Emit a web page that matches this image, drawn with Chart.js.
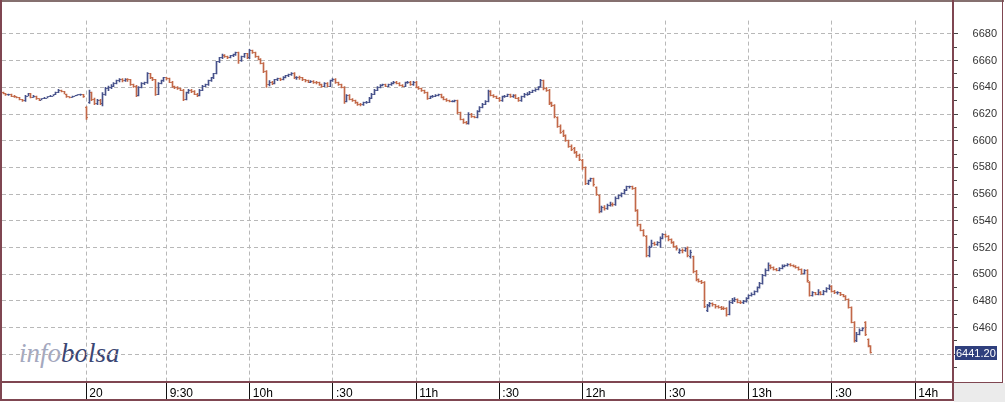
<!DOCTYPE html>
<html><head><meta charset="utf-8">
<script src="https://cdn.jsdelivr.net/npm/chart.js@4.4.1/dist/chart.umd.min.js"></script>
<style>
html,body{margin:0;padding:0;background:#fff;}
#wrap{position:relative;width:1005px;height:402px;overflow:hidden;}
#c{position:relative;z-index:1;display:block;}
#logo{position:absolute;z-index:0;left:19px;top:340px;font-family:'Liberation Serif','Times New Roman',serif;font-style:italic;font-size:27px;line-height:27px;white-space:nowrap;}
#logo .a{color:#a4a8be;}
#logo .b{color:#3b4673;}
</style></head><body>
<div id="wrap"><div id="logo"><span class="a">info</span><span class="b">bolsa</span></div><canvas id="c" width="1005" height="402"></canvas></div>
<script>
// minutes from 9:00 of the first 1-minute bar
const firstMinute = -29;
const opens = [
6636,6635.5,6634.5,6634.8,6633.5,6633,6632.5,6631,6630,6633.5,
6635.5,6632.5,6633.5,6631.5,6630.5,6631.5,6632,6633,6633.5,6634.5,
6636,6638,6637,6635,6633,6632.5,6633.5,6634,6634.5,6634.8,
6625,6629,6636,6631,6628,6630,6628,6635,6639,6640,
6641,6643,6645,6646,6645,6646,6645.5,6642,6641,6634,
6640,6643,6643.5,6650,6647,6645.5,6635,6643,6645,6647,
6646.5,6644,6640.5,6640,6639,6638,6631,6636,6638,6637,
6635,6634,6638,6641,6642,6645,6647,6650,6659,6662,
6664,6663,6662.5,6663.5,6664.5,6666,6660,6663,6665,6662,
6667.5,6666,6663,6661,6658,6652,6642,6644,6643,6645.5,
6646.5,6646,6647.5,6648.5,6649.5,6650.5,6647,6647.5,6647,6645.5,
6645,6644,6644.5,6644,6643.5,6642,6641,6643,6641,6645,
6646,6643.5,6642,6640,6629.5,6634,6631,6630,6628.5,6627.5,
6627,6628.5,6629,6632,6635,6638,6640,6641.5,6642,6641,
6642,6643,6644,6643,6641.5,6641,6643.5,6644,6642,6644,
6640,6639,6637.5,6636,6632,6633,6633.5,6634,6634.5,6632.5,
6631,6630,6629.5,6629.5,6630,6621,6616,6614,6613,6620,
6618,6617.5,6622,6625,6627.5,6629.5,6637,6634,6633,6632,
6630,6633,6633.5,6634.5,6633,6634,6632,6630,6633,6635,
6635,6636.5,6637.5,6638.5,6641,6645,6639,6638,6628.5,6626.5,
6617.5,6611,6607,6604,6600,6596,6594,6591.5,6589,6585.5,
6580,6568,6570,6571.5,6565,6559,6547,6550,6549,6551.5,
6552.5,6552,6557,6559,6560.5,6563,6565.5,6565.5,6564.5,6548,
6537,6533,6528.5,6514,6520,6523,6522.5,6523.5,6527,6529.5,
6528.5,6526,6524,6521,6516,6518,6517.5,6519,6513,6513,
6502,6496,6494.5,6494,6473,6476.5,6478,6477,6476,6475,
6474.5,6474,6470,6479,6480,6481,6479,6478.5,6479.5,6482,
6484,6485,6487,6490,6493,6499,6503,6506.5,6505,6503.5,
6503,6504.5,6506,6506.5,6507.5,6506.5,6506,6505,6503.5,6500.5,
6503,6494,6484,6486,6485,6486.5,6485,6487,6489,6491,
6487,6486,6486,6484.5,6483.5,6481,6475,6464,6450,6455,
6458,6464,6451,6446.5
];
const highs = [
6636.5,6635.5,6635,6635,6634,6633,6632.5,6631,6634,6635.5,
6635.5,6634,6633.5,6631.5,6631.5,6632.5,6633,6634,6634.5,6636.5,
6638.5,6638,6637,6635,6633,6633.5,6634,6634.5,6635,6634.8,
6625.5,6638,6636.5,6632,6631,6631,6636,6640,6641,6642,
6643.5,6645.5,6646.5,6646.5,6646.5,6646.5,6646,6642.5,6641.5,6640.5,
6643.5,6644,6651,6650.5,6647.5,6646,6643.5,6645.5,6647.5,6647.5,
6647,6644.5,6641,6640.5,6639.5,6638.5,6636.5,6638.5,6638.5,6637.5,
6635.5,6638.5,6641.5,6642.5,6645.5,6647.5,6650.5,6659.5,6662.5,6665,
6664.5,6663.5,6664,6665,6666.5,6666.5,6663.5,6665.5,6665.5,6668.5,
6668,6666.5,6663.5,6661.5,6658.5,6652.5,6645,6644.5,6646,6647,
6647,6648,6649,6650,6651,6651,6648,6648.5,6647.5,6646,
6645.5,6645,6645,6644.5,6644,6642.5,6643.5,6643.5,6645.5,6646.5,
6646.5,6644,6642.5,6640.5,6634.5,6634.5,6631.5,6630.5,6629,6628,
6629,6629.5,6632.5,6635.5,6638.5,6640.5,6642,6642.5,6642.5,6642.5,
6643.5,6644.5,6644.5,6643.5,6642,6644,6644.5,6644.5,6644.5,6644.5,
6640.5,6639.5,6638,6636.5,6633.5,6634,6634.5,6635,6635,6633,
6631.5,6630.5,6630,6630.5,6630.5,6621.5,6616.5,6614.5,6621,6620.5,
6618.5,6622.5,6625.5,6628,6630,6638,6637.5,6634.5,6633.5,6632.5,
6633.5,6634,6635,6635,6634.5,6634.5,6632.5,6633.5,6635.5,6636,
6637,6638,6639,6640.5,6646,6645.5,6640,6638.5,6629,6627,
6618,6612,6608,6604.5,6600.5,6597,6595,6592,6590,6586,
6580.5,6570.5,6572,6572,6565.5,6559.5,6551,6551.5,6552.5,6554,
6553.5,6558,6559.5,6561,6563.5,6566,6566,6566,6565,6548.5,
6537.5,6533.5,6529,6521,6525.5,6524,6524.5,6528,6530.5,6530,
6529,6526.5,6524.5,6521.5,6519,6519,6520,6520.5,6518,6513.5,
6503,6496.5,6495.5,6494.5,6477.5,6479,6478.5,6477.5,6476.5,6476,
6475.5,6475,6480,6482,6482.5,6481.5,6480,6480.5,6482.5,6484.5,
6486,6487.5,6490.5,6494,6500,6504,6508.5,6507,6505.5,6504.5,
6505,6507,6507,6508,6508,6507,6506.5,6505.5,6504,6503.5,
6503.5,6494.5,6487,6486.5,6488.5,6487,6488,6490,6492,6491.5,
6488,6487,6486.5,6485,6484,6481.5,6475.5,6464.5,6456.5,6459,
6460,6464.5,6451.5,6446.5
];
const lows = [
6635,6634,6634,6633,6632.5,6632,6630.5,6629.5,6629.5,6633.5,
6632,6632.5,6631,6630,6630.5,6631.5,6632,6633,6633.5,6634.5,
6636,6636.5,6635,6632.5,6632,6632.5,6633.5,6634,6634,6632.5,
6616,6628,6630,6627,6627,6627,6626,6634,6637.5,6639,
6640.5,6642.5,6644,6644,6644.5,6644.5,6641.5,6640,6633,6633.5,
6639.5,6642,6643,6646.5,6645,6634,6634.5,6642.5,6644.5,6645.5,
6643.5,6640,6639,6638.5,6637.5,6630,6630.5,6635.5,6636,6634.5,
6633,6633.5,6637.5,6640.5,6641.5,6644.5,6646.5,6650,6658.5,6661.5,
6662.5,6661.5,6662,6663,6664,6658,6659.5,6662.5,6661.5,6661.5,
6665.5,6662.5,6660.5,6657.5,6651,6640,6641,6642,6642.5,6645,
6645,6645.5,6647,6648,6649,6646.5,6646,6646,6645,6644,
6643.5,6643.5,6643,6642.5,6641.5,6640,6640.5,6640.5,6640.5,6644.5,
6643,6641.5,6639.5,6628,6629,6630.5,6629.5,6628,6626.5,6626,
6626.5,6628,6628.5,6631.5,6634.5,6637.5,6639.5,6641,6640.5,6640.5,
6641.5,6642.5,6642.5,6641,6640.5,6640.5,6643,6641.5,6641.5,6639.5,
6638.5,6637,6635.5,6631,6631.5,6632.5,6633,6633.5,6632,6630.5,
6629.5,6629,6629,6629,6620,6615.5,6613,6612.5,6612.5,6617.5,
6617,6617,6621.5,6624.5,6627,6629,6633.5,6632.5,6631.5,6629.5,
6629.5,6632.5,6633,6632.5,6632.5,6631.5,6629.5,6629.5,6632.5,6634,
6634.5,6636,6637,6638,6640,6638,6637,6627,6625.5,6617,
6610,6605.5,6603,6599.5,6595,6592.5,6590.5,6587.5,6585,6578.5,
6567,6567,6569.5,6566,6559,6546,6546.5,6548,6548.5,6551,
6551,6551.5,6556.5,6558,6560,6562.5,6564.5,6563.5,6547,6536,
6532.5,6528.5,6513,6513,6520,6521.5,6521.5,6520,6526.5,6527.5,
6525,6523,6520,6518,6515.5,6516,6517,6513,6512,6501,
6495,6494,6493,6475,6472,6475.5,6476,6474.5,6474.5,6473.5,
6473.5,6468.5,6469.5,6478,6479.5,6478.5,6478,6478,6479,6481.5,
6483.5,6484.5,6486.5,6489.5,6492.5,6498.5,6502.5,6504,6503,6502.5,
6502.5,6504,6505.5,6506,6506,6505.5,6504.5,6503,6500,6500,
6494,6483.5,6483.5,6484.5,6484.5,6484.5,6484.5,6486.5,6488.5,6486.5,
6485.5,6485,6484,6483,6480.5,6474.5,6463.5,6449,6449.5,6454.5,
6457.5,6454,6445.5,6440.8
];
const closes = [
6635.5,6634.5,6634.8,6633.5,6633,6632.5,6631,6630,6633.5,6635.5,
6632.5,6633.5,6631.5,6630.5,6631.5,6632,6633,6633.5,6634.5,6636,
6638,6637,6635,6633,6632.5,6633.5,6634,6634.5,6634.8,6633,
6617.5,6636,6631,6628,6630,6628,6635,6639,6640,6641,
6643,6645,6646,6645,6646,6645.5,6642,6641,6634,6640,
6643,6643.5,6650,6647,6645.5,6635,6643,6645,6647,6646.5,
6644,6640.5,6640,6639,6638,6631,6636,6638,6637,6635,
6634,6638,6641,6642,6645,6647,6650,6659,6662,6664,
6663,6662.5,6663.5,6664.5,6666,6660,6663,6665,6662,6667.5,
6666,6663,6661,6658,6652,6642,6644,6643,6645.5,6646.5,
6646,6647.5,6648.5,6649.5,6650.5,6647,6647.5,6647,6645.5,6645,
6644,6644.5,6644,6643.5,6642,6641,6643,6641,6645,6646,
6643.5,6642,6640,6629.5,6634,6631,6630,6628.5,6627.5,6627,
6628.5,6629,6632,6635,6638,6640,6641.5,6642,6641,6642,
6643,6644,6643,6641.5,6641,6643.5,6644,6642,6644,6640,
6639,6637.5,6636,6632,6633,6633.5,6634,6634.5,6632.5,6631,
6630,6629.5,6629.5,6630,6621,6616,6614,6613,6620,6618,
6617.5,6622,6625,6627.5,6629.5,6637,6634,6633,6632,6630,
6633,6633.5,6634.5,6633,6634,6632,6630,6633,6635,6635,
6636.5,6637.5,6638.5,6640,6645,6639,6638,6628,6626.5,6618,
6611,6606.5,6604,6600.5,6596,6593.5,6591.5,6589,6586,6580,
6568,6570,6571.5,6567,6560,6547,6550,6549,6551.5,6552.5,
6552,6557,6559,6560.5,6563,6565.5,6565.5,6564.5,6548,6537,
6533,6529,6514,6520,6523,6522.5,6523.5,6527,6529.5,6528.5,
6526,6524,6521,6519,6518,6517.5,6519,6514,6516,6502,
6496,6494.5,6494,6476,6476.5,6478,6477,6476,6475,6474.5,
6474,6469.5,6479,6480,6481,6479,6478.5,6479.5,6482,6484,
6485,6487,6490,6493,6499,6503,6506.5,6505,6503.5,6503,
6504.5,6506,6506.5,6507.5,6506.5,6506,6505,6503.5,6500.5,6502.5,
6495,6484,6486,6485,6486.5,6485,6487,6489,6491,6487,
6486,6486,6484.5,6483.5,6481,6475,6464,6450,6455,6458,
6459.5,6455,6446,6441.2
];
const xTickValues = [1, 30, 60, 90, 120, 150, 180, 210, 240, 270, 300];
const xTickLabels = ['20', '9:30', '10h', ':30', '11h', ':30', '12h', ':30', '13h', ':30', '14h'];
const yTickValues = [6440, 6460, 6480, 6500, 6520, 6540, 6560, 6580, 6600, 6620, 6640, 6660, 6680];
const yMinorValues = [6430, 6450, 6470, 6490, 6510, 6530, 6550, 6570, 6590, 6610, 6630, 6650, 6670];

const UP = '#46518a';
const DOWN = '#c26848';
const FRAME = '#7f4651';
const GRID = '#b8b8b8';

const times = opens.map((_, i) => firstMinute + i);
const rangeData = opens.map((o, i) => ({ x: times[i], y: [lows[i], highs[i]] }));
const barColors = opens.map((o, i) => closes[i] >= o ? UP : DOWN);

const ohlcPlugin = {
  id: 'ohlc',
  beforeDraw(chart) {
    const ctx = chart.ctx;
    ctx.save();
    ctx.fillStyle = '#ebebeb';
    ctx.fillRect(954, 383, 51, 19);
    ctx.restore();
  },
  afterDatasetsUpdate(chart) {
    chart.getDatasetMeta(0).data.forEach(el => { el.x = Math.floor(el.x) + 0.5; });
  },
  afterDatasetsDraw(chart) {
    const ctx = chart.ctx, ys = chart.scales.y;
    ctx.save();
    ctx.globalAlpha = 0.85;
    chart.getDatasetMeta(0).data.forEach((el, i) => {
      const x = Math.floor(el.x);
      ctx.fillStyle = barColors[i];
      ctx.fillRect(x - 1, Math.floor(ys.getPixelForValue(opens[i])), 1, 1);
      ctx.fillRect(x + 1, Math.floor(ys.getPixelForValue(closes[i])), 1, 1);
    });
    ctx.restore();
  },
  afterDraw(chart) {
    const ctx = chart.ctx, ys = chart.scales.y, area = chart.chartArea;
    ctx.save();
    ctx.fillStyle = '#444';
    yMinorValues.forEach(v => {
      ctx.fillRect(area.right + 2, Math.floor(ys.getPixelForValue(v)), 3, 1);
    });
    ctx.fillStyle = '#85706f';
    ctx.fillRect(0, 0, 1004, 2);
    ctx.fillStyle = FRAME;
    ctx.fillRect(0, 0, 2, 401);
    ctx.fillRect(area.right, 0, 2, 383);
    ctx.fillRect(1002, 0, 1, 383);
    ctx.fillRect(area.right, 382, 51, 1);
    ctx.fillRect(0, 381, area.right + 2, 2);
    ctx.fillRect(0, 399, area.right + 2, 2);
    ctx.fillRect(area.right, 381, 2, 20);
    const last = closes[closes.length - 1];
    const py = ys.getPixelForValue(last);
    ctx.fillStyle = '#2f3f7d';
    ctx.fillRect(area.right + 3, Math.round(py) - 7, 42, 14);
    ctx.fillStyle = '#ffffff';
    ctx.font = '11px "Liberation Sans", Arial, sans-serif';
    ctx.textAlign = 'left';
    ctx.textBaseline = 'middle';
    ctx.fillText(last.toFixed(2), area.right + 4, Math.round(py) + 0.5);
    ctx.restore();
  }
};

new Chart(document.getElementById('c'), {
  type: 'bar',
  data: {
    datasets: [{
      data: rangeData,
      backgroundColor: barColors,
      borderWidth: 0,
      barThickness: 1
    }]
  },
  options: {
    responsive: false,
    devicePixelRatio: 1,
    animation: false,
    events: [],
    layout: { padding: { left: 2, top: 3, right: 8, bottom: 2 } },
    plugins: { legend: { display: false }, tooltip: { enabled: false } },
    scales: {
      x: {
        type: 'linear',
        min: -29.4,
        max: 313.3,
        offset: false,
        afterBuildTicks: s => { s.ticks = xTickValues.map(v => ({ value: v })); },
        afterFit: s => { s.height = 19; },
        grid: { offset: false, color: GRID, lineWidth: 1, tickColor: '#111', tickLength: 19, tickBorderDash: [] },
        border: { display: false, dash: [4, 3] },
        ticks: {
          autoSkip: false, maxRotation: 0, minRotation: 0,
          align: 'start', labelOffset: 3, padding: -14,
          color: '#000',
          font: { family: '"Liberation Sans", Arial, sans-serif', size: 12 },
          callback: (v, i) => xTickLabels[i]
        }
      },
      y: {
        type: 'linear',
        position: 'right',
        min: 6420,
        max: 6690,
        afterBuildTicks: s => { s.ticks = yTickValues.map(v => ({ value: v })); },
        afterFit: s => { s.width = 45; },
        grid: { color: GRID, lineWidth: 1, tickColor: '#444', tickLength: 6, tickBorderDash: [] },
        border: { display: false, dash: [4, 3] },
        ticks: {
          crossAlign: 'far', padding: 14,
          color: '#333',
          font: { family: '"Liberation Sans", Arial, sans-serif', size: 11 },
          callback: v => (v >= 6460 ? String(v) : '')
        }
      }
    }
  },
  plugins: [ohlcPlugin]
});
</script>
</body></html>
